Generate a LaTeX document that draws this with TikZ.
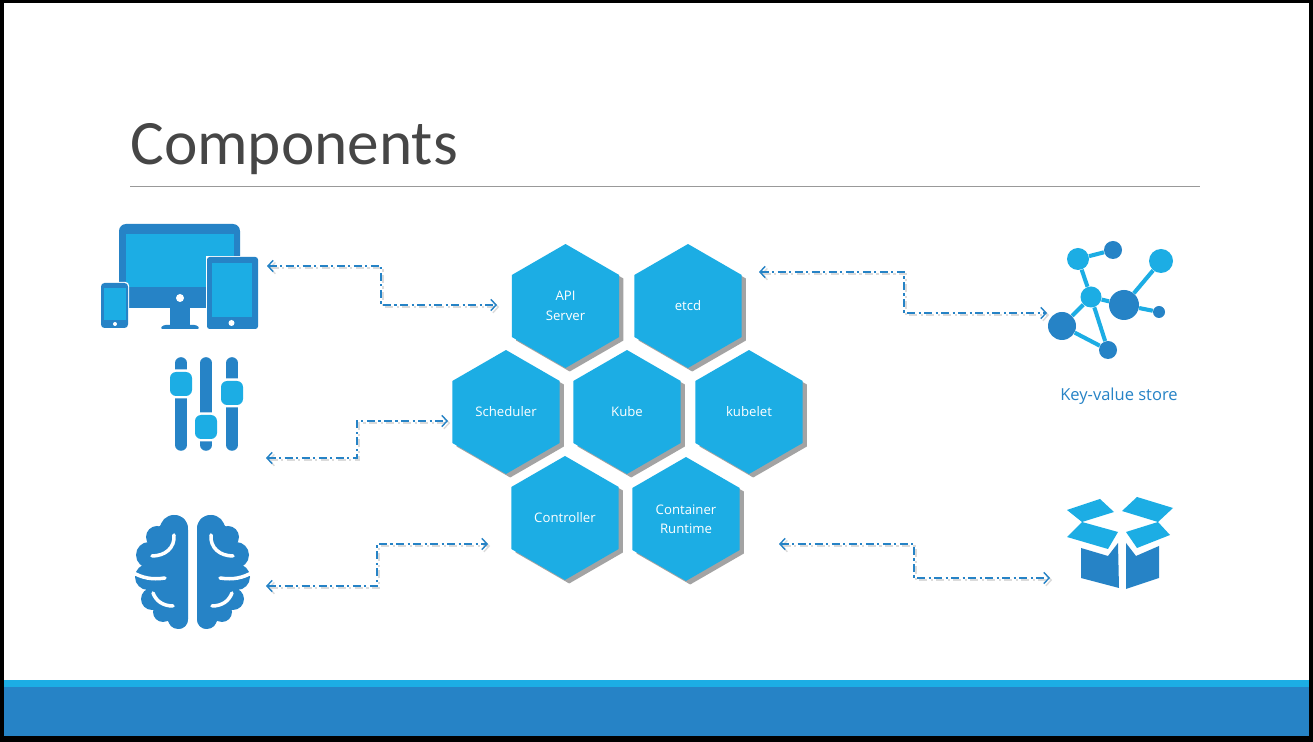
\documentclass[tikz,border=0pt]{standalone}
\definecolor{hexblue}{RGB}{28, 173, 228}
\definecolor{darkblue}{RGB}{38, 131, 198}
\definecolor{titlegray}{RGB}{70, 70, 70}
\usepackage{fontspec}
\setmainfont{Open Sans}
\newfontfamily\titlefont{Carlito}
\usetikzlibrary{shapes.geometric, arrows.meta, shadows, calc}
\tikzset{
  hexcell/.style={regular polygon, regular polygon sides=6, shape border rotate=30, inner sep=0pt, minimum size=2.48cm, fill=hexblue, text=white, align=center, font=\fontsize{7.5}{11}\selectfont, drop shadow={shadow xshift=2.4pt, shadow yshift=-2pt, fill=black!36, opacity=1}},
  linkarrow/.style={draw=darkblue, line width=0.8pt, dash pattern=on 4.5pt off 2pt on 1.2pt off 2pt, {Straight Barb[length=3pt,width=6.5pt]}-{Straight Barb[length=3pt,width=6.5pt]}},
  linkshade/.style={linkarrow, draw=black!14, transform canvas={shift={(1.2pt,-1.2pt)}}},
  netlight/.style={circle, fill=hexblue, inner sep=0pt},
  netdark/.style={circle, fill=darkblue, inner sep=0pt},
  netedge/.style={draw=hexblue, line width=2.3pt},
  icondark/.style={fill=darkblue},
  iconlight/.style={fill=hexblue},
  groove/.style={draw=white, line width=2pt, line cap=round}
}
\begin{document}
\begin{tikzpicture}[x=0.02cm, y=-0.02cm]
  % Slide frame
  \fill[black] (0,0) rectangle (1313,742);
  \fill[white] (4,3) rectangle (1309,736);
  \fill[hexblue] (4,680) rectangle (1309,687);
  \fill[darkblue] (4,687) rectangle (1309,736);

  % Title
  \node[anchor=base west, inner sep=0pt, text=titlegray, font=\titlefont\fontsize{36}{40}\selectfont] (title) at (130,165) {Components};
  \draw[black!40, line width=0.5pt] (130,186.5) -- (1200,186.5);

  % Hexagons
  \node[hexcell] (api) at (565.5,306) {API\\Server};
  \node[hexcell] (etcd) at (688,306) {etcd};
  \node[hexcell] (sched) at (506,412) {Scheduler};
  \node[hexcell] (kube) at (627,412) {Kube};
  \node[hexcell] (kubelet) at (749,412) {kubelet};
  \node[hexcell] (ctrl) at (565,518) {Controller};
  \node[hexcell] (runtime) at (686,519) {Container\\Runtime};

  % Free ends of the links
  \coordinate (devEnd) at (267,266);
  \coordinate (apiEnd) at (497,305);
  \coordinate (slideEnd) at (266,458);
  \coordinate (schedEnd) at (448,421);
  \coordinate (brainEnd) at (266,586);
  \coordinate (ctrlEnd) at (488,544);
  \coordinate (etcdEnd) at (759,272);
  \coordinate (netEnd) at (1047,313);
  \coordinate (runEnd) at (779,544);
  \coordinate (boxEnd) at (1050,578);

  % Links, each with a faint copy under it
  \foreach \sty in {linkshade, linkarrow} {
    \draw[\sty] (devEnd) -- (devEnd -| 381,0) -- (381,0 |- apiEnd) -- (apiEnd);
    \draw[\sty] (slideEnd) -- (slideEnd -| 357,0) -- (357,0 |- schedEnd) -- (schedEnd);
    \draw[\sty] (brainEnd) -- (brainEnd -| 377,0) -- (377,0 |- ctrlEnd) -- (ctrlEnd);
    \draw[\sty] (etcdEnd) -- (etcdEnd -| 904,0) -- (904,0 |- netEnd) -- (netEnd);
    \draw[\sty] (runEnd) -- (runEnd -| 914,0) -- (914,0 |- boxEnd) -- (boxEnd);
  }

  % Devices icon
  \fill[icondark, rounded corners=4pt] (119,224) rectangle (240,308);
  \fill[iconlight] (126,234) rectangle (234,287);
  \fill[icondark] (170,306) rectangle (190,326);
  \fill[icondark, rounded corners=1.5pt] (160,329) -- (163,325) -- (197,325) -- (200,329) -- cycle;
  \fill[white] (180,298) circle (4);
  \fill[white] (206,256) rectangle (259,330);
  \fill[icondark, rounded corners=1.5pt] (207,257) rectangle (258,329);
  \fill[iconlight] (212,263) rectangle (252,317);
  \fill[white] (231.5,323) circle (3);
  \fill[white, rounded corners=2pt] (100,282) rectangle (129,329);
  \fill[icondark, rounded corners=2pt] (101,283) rectangle (128,328);
  \fill[iconlight] (104,288) rectangle (126,320);
  \fill[white] (115,324) circle (2);

  % Sliders icon
  \foreach \sx/\ky in {181/384, 206/427, 232/393} {
    \draw[darkblue, line width=6.6pt, line cap=round] (\sx,363) -- (\sx,445);
    \fill[white, rounded corners=3pt] (\sx-13,\ky-14.5) rectangle (\sx+13,\ky+14.5);
    \fill[iconlight, rounded corners=3.5pt] (\sx-11,\ky-12) rectangle (\sx+11,\ky+12);
  }

  % Brain icon, one lobe and its mirror image
  \foreach \mx/\dx in {1/0, -1/385} {
    \begin{scope}[shift={(\dx,0)}, xscale=\mx]
      \fill[icondark] (174,529) circle (14) (157,537) circle (11) (149,555) circle (13) (148,577) circle (13) (152,599) circle (11) (163,612) circle (10) (178,619) circle (10);
      \fill[icondark] (173,515) .. controls (183,515) and (188,521) .. (188,530) -- (188,619) .. controls (188,625) and (184,629) .. (178,629) -- (160,615) -- (148,590) -- (142,560) -- (155,530) -- cycle;
      \draw[groove] (174,535) .. controls (175,548) and (165,556) .. (152,556);
      \draw[groove] (165,578) .. controls (152,580) and (142,578) .. (132,572);
      \draw[groove] (153,593) .. controls (156,601) and (163,606) .. (173,606);
    \end{scope}
  }

  % Key-value store icon
  \node[netlight, minimum size=0.44cm] (netA) at (1078,259) {};
  \node[netdark, minimum size=0.36cm] (netB) at (1113,250) {};
  \node[netlight, minimum size=0.48cm] (netC) at (1161,261) {};
  \node[netlight, minimum size=0.42cm] (netD) at (1091,297) {};
  \node[netdark, minimum size=0.60cm] (netE) at (1124,305) {};
  \node[netdark, minimum size=0.24cm] (netF) at (1159,312) {};
  \node[netdark, minimum size=0.56cm] (netG) at (1062,326) {};
  \node[netdark, minimum size=0.36cm] (netH) at (1108,350) {};
  \draw[netedge] (netA) -- (netB);
  \draw[netedge] (netA) -- (netD);
  \draw[netedge] (netD) -- (netG);
  \draw[netedge] (netD) -- (netH);
  \draw[netedge] (netD) -- (netE);
  \draw[netedge] (netE) -- (netC);
  \draw[netedge] (netE) -- (netF);
  \draw[netedge] (netG) -- (netH);
  \node[text=darkblue, inner sep=0pt, font=\fontsize{9.4}{11}\selectfont] (netlabel) at (1119,396) {Key-value store};

  % Box icon
  \fill[iconlight] (1067,510) -- (1100,499) -- (1114,512) -- (1082,522) -- cycle;
  \fill[iconlight] (1122,511) -- (1137,497) -- (1173,508) -- (1158,522) -- cycle;
  \fill[iconlight] (1082,522) -- (1118,532) -- (1108,549) -- (1067,537) -- cycle;
  \fill[iconlight] (1158,522) -- (1126,532) -- (1137,548) -- (1170,535) -- cycle;
  \fill[icondark] (1081,548) -- (1108,556) -- (1118,543) -- (1119,588) -- (1081,578) -- cycle;
  \fill[icondark] (1126,543) -- (1136,556) -- (1159,546) -- (1159,578) -- (1126,589) -- cycle;
\end{tikzpicture}
\end{document}
